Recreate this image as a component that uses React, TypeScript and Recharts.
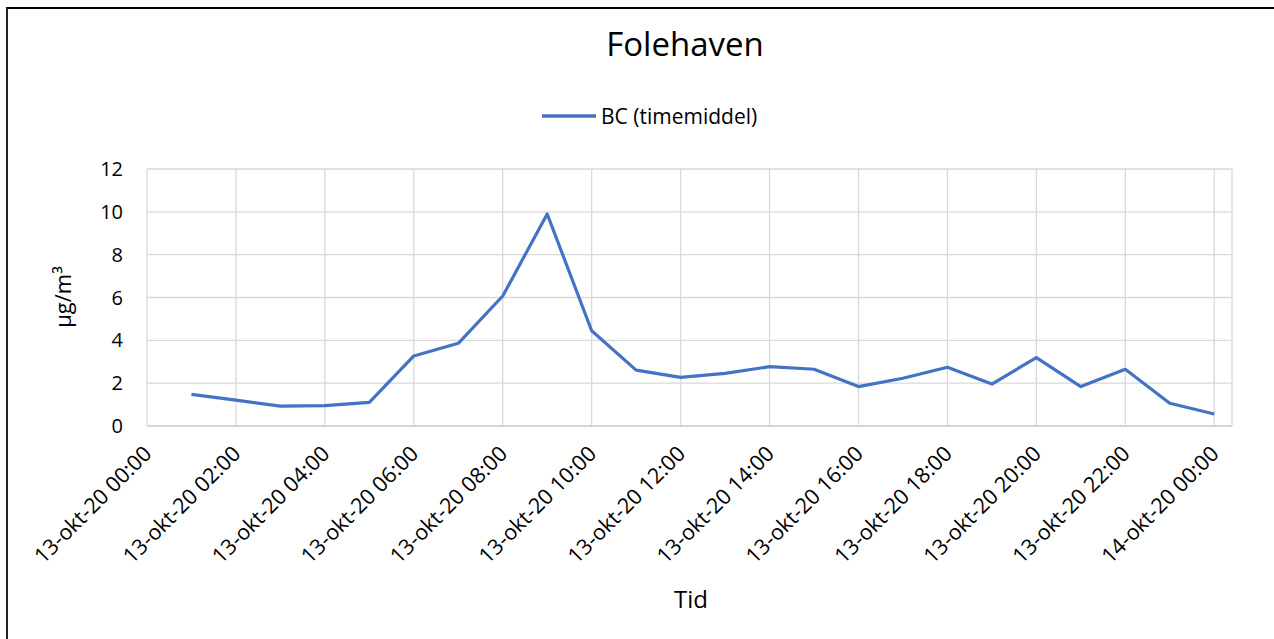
import { CartesianGrid, Line, LineChart, XAxis, YAxis } from "recharts"

const hours = [1, 2, 3, 4, 5, 6, 7, 8, 9, 10, 11, 12, 13, 14, 15, 16, 17, 18, 19, 20, 21, 22, 23, 24]
const bcValues = [
  1.48, 1.21, 0.93, 0.95, 1.1, 3.27, 3.86, 6.07, 9.9, 4.45, 2.61, 2.27, 2.46, 2.77, 2.65, 1.84,
  2.23, 2.74, 1.96, 3.19, 1.84, 2.65, 1.06, 0.56,
]
const xTicks = [0, 2, 4, 6, 8, 10, 12, 14, 16, 18, 20, 22, 24]
const xTickLabels = [
  "13-okt-20 00:00",
  "13-okt-20 02:00",
  "13-okt-20 04:00",
  "13-okt-20 06:00",
  "13-okt-20 08:00",
  "13-okt-20 10:00",
  "13-okt-20 12:00",
  "13-okt-20 14:00",
  "13-okt-20 16:00",
  "13-okt-20 18:00",
  "13-okt-20 20:00",
  "13-okt-20 22:00",
  "14-okt-20 00:00",
]
const yTicks = [0, 2, 4, 6, 8, 10, 12]

const FONT = "'Open Sans', sans-serif"
const LINE_COLOR = "#4472C4"

const data = hours.map((h, i) => ({ hour: h, bc: bcValues[i] }))

function XTick({ x, y, payload }: any) {
  const idx = xTicks.indexOf(payload.value)
  return (
    <text
      transform={`translate(${x + 6}, ${y + 21}) rotate(-45)`}
      textAnchor="end"
      fontSize={21.5}
      fontFamily={FONT}
      fill="#000"
    >
      {xTickLabels[idx]}
    </text>
  )
}

export default function App() {
  return (
    <div style={{ position: "absolute", left: 0, top: 0, width: 1274, height: 639, background: "#fff" }}>
      <style>{"body{margin:0}"}</style>
      <div
        style={{
          position: "absolute",
          left: 6,
          top: 7,
          width: 1268,
          height: 632,
          borderTop: "2px solid #000",
          borderLeft: "2px solid #222",
        }}
      />
      <div
        style={{
          position: "absolute",
          top: 21,
          left: 0,
          width: 1370,
          textAlign: "center",
          fontFamily: FONT,
          fontSize: 33,
          color: "#000",
        }}
      >
        Folehaven
      </div>
      {/* legend */}
      <div
        style={{
          position: "absolute",
          left: 542,
          top: 102,
          display: "flex",
          alignItems: "center",
          fontFamily: FONT,
          fontSize: 21,
        }}
      >
        <svg width={54} height={10} style={{ marginRight: 5 }}>
          <line x1={0} y1={5} x2={54} y2={5} stroke={LINE_COLOR} strokeWidth={3.5} />
        </svg>
        <span>BC (timemiddel)</span>
      </div>
      <div
        style={{
          position: "absolute",
          left: 62,
          top: 297,
          transform: "translate(-50%, -50%) rotate(-90deg)",
          fontFamily: FONT,
          fontSize: 22,
          whiteSpace: "nowrap",
        }}
      >
        µg/m³
      </div>
      <div
        style={{
          position: "absolute",
          left: 691,
          top: 598,
          transform: "translate(-50%, -50%)",
          fontFamily: FONT,
          fontSize: 24,
        }}
      >
        Tid
      </div>
      <div style={{ position: "absolute", left: 0, top: 0 }}>
        <LineChart width={1274} height={639} data={data} margin={{ top: 169, right: 42, bottom: 0, left: 0 }}>
          <CartesianGrid stroke="#d9d9d9" strokeWidth={1.3} />
          <XAxis
            dataKey="hour"
            type="number"
            domain={[0, 24.4]}
            ticks={xTicks}
            interval={0}
            tick={<XTick />}
            tickLine={false}
            axisLine={{ stroke: "#d0d0d0", strokeWidth: 1.5 }}
            height={213}
            allowDataOverflow
          />
          <YAxis
            domain={[0, 12]}
            ticks={yTicks}
            interval={0}
            width={147}
            tickLine={false}
            axisLine={false}
            tickMargin={18}
            tick={{ fontSize: 20, fontFamily: FONT, fill: "#000" }}
          />
          <Line
            dataKey="bc"
            stroke={LINE_COLOR}
            strokeWidth={3.2}
            dot={false}
            isAnimationActive={false}
            strokeLinejoin="round"
          />
        </LineChart>
      </div>
    </div>
  )
}
